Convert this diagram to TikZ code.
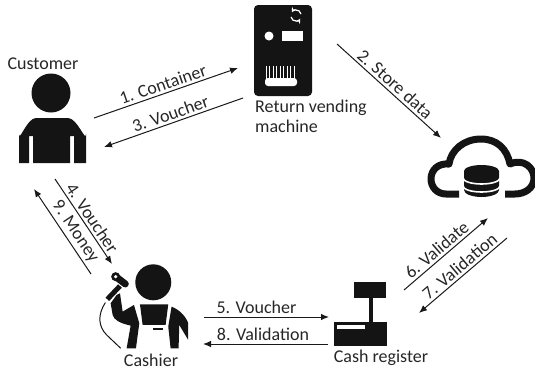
\documentclass[tikz,border=0pt]{standalone}
\usepackage{fontspec}
\setmainfont{Carlito}
\usetikzlibrary{arrows.meta}
\definecolor{iconblack}{HTML}{141414}
\tikzset{
 flow/.style={-{Latex[length=8pt,width=6.5pt]},line width=1pt,black!90},
 flowlabel/.style={sloped,above,inner sep=2.5pt,font=\fontsize{18}{18}\selectfont,text=black!85},
 caption/.style={font=\fontsize{18}{20}\selectfont,text=black!85,inner sep=0pt,align=left}
}
\begin{document}
\begin{tikzpicture}[x=1pt,y=-1pt,line cap=butt]
 \useasboundingbox (0,0) rectangle (535,370);

 % customer
 \node[caption] (customer) at (43,64) {Customer};
 \fill[iconblack] (51,93) circle (19.5);
 \fill[iconblack] (19,163) -- (19,134) to[out=-90,in=180] (36,118) -- (68,118)
  to[out=0,in=-90] (86,134) -- (86,163) -- (74,163) -- (74,136) -- (70,136) -- (70,163)
  -- (33,163) -- (33,136) -- (29,136) -- (29,163) -- cycle;

 % vending machine
 \fill[iconblack,rounded corners=4pt] (254,5) rectangle (312,96);
 \fill[white] (269,36) circle (4.5);
 \fill[white] (282,31) rectangle (303,41);
 \draw[white,line width=1.2pt,->,>=stealth] (291,17) arc (170:30:5);
 \draw[white,line width=1.2pt,->,>=stealth] (301,14) arc (-10:-150:5);
 \fill[white,rounded corners=3pt] (265,78) rectangle (297,86);
 \foreach \x in {266,269.5,...,297} {
  \draw[white,line width=0.9pt] (\x,66) -- (\x,82);
 }
 \node[caption,anchor=north west] (rvm) at (255,100) {Return vending\\machine};

 % cloud
 \draw[iconblack,line width=7pt,line join=round] (459,194) -- (446,194)
  .. controls (437,194) and (431,187) .. (431,179) .. controls (431,170) and (438,163) .. (449,164)
  .. controls (451,150) and (464,139) .. (481,139)
  .. controls (497,139) and (507,149) .. (510,164) .. controls (524,158) and (534,168) .. (534,178)
  .. controls (534,188) and (525,194) .. (515,194) -- (505,194);
 \fill[iconblack] (464,171) -- (464,190) arc (180:0:17.5 and 7) -- (499,171) arc (0:-180:17.5 and 6) -- cycle;
 \foreach \y in {178,186} {
  \draw[white,line width=1.6pt] (463,\y) arc (180:0:18.5 and 6);
 }

 % cash register
 \fill[iconblack] (354,282) rectangle (386,298);
 \fill[iconblack] (369,298) rectangle (373,323);
 \fill[iconblack] (334,322) rectangle (387,346);
 \fill[white] (337,325) rectangle (365,329);
 \node[caption] (register) at (381,358) {Cash register};

 % cashier
 \begin{scope}[shift={(100,260)},x=0.333pt,y=-0.333pt]
  \fill[iconblack] (160,67) circle (18pt);
  \fill[iconblack] (120,133) -- (205,133) -- (197,195) -- (128,195) -- cycle;
  \fill[iconblack] (60,100) -- (68,155) -- (102,135) -- (118,190) -- (108,265) -- (80,265)
   -- (92,197) .. controls (60,190) and (42,180) .. (38,165) -- (32,130) -- (50,105) -- cycle;
  \fill[iconblack] (215,140) .. controls (240,150) and (258,170) .. (265,190) -- (265,240)
   -- (238,195) -- (236,265) -- (212,265) -- (205,200) -- cycle;
  \fill[iconblack] (160,203) rectangle (190,209);
  \draw[iconblack,line width=5pt] (22,118) -- (60,78);
  \draw[iconblack,line width=7pt,line cap=round] (50,52) -- (76,72);
  \fill[iconblack] (47,50) circle (4.5pt);
  \fill[white] (47,50) circle (1.8pt);
  \draw[iconblack,line width=1pt] (16,128) .. controls (-8,165) and (-5,200) .. (20,225) -- (62,265);
 \end{scope}
 \node[caption] (cashier) at (151,360) {Cashier};

 % arrow ends
 \coordinate (a) at (94,118);  \coordinate (b) at (238,68);
 \coordinate (c) at (243,98);  \coordinate (d) at (104,147);
 \coordinate (e) at (337,44);  \coordinate (f) at (441,138);
 \coordinate (g) at (55,179);  \coordinate (h) at (112,264);
 \coordinate (i) at (91,274);  \coordinate (j) at (34,189);
 \coordinate (k) at (204,317); \coordinate (l) at (329,317);
 \coordinate (m) at (328,344); \coordinate (n) at (203,344);
 \coordinate (o) at (404,290); \coordinate (p) at (488,218);
 \coordinate (q) at (507,238); \coordinate (r) at (419,313);

 \draw[flow] (a) -- node[flowlabel] (l1) {1. Container} (b);
 \draw[flow] (c) -- node[flowlabel] (l3) {3. Voucher} (d);
 \draw[flow] (e) -- node[flowlabel] (l2) {2. Store data} (f);
 \draw[flow] (g) -- node[flowlabel,pos=.52] (l4) {4. Voucher} (h);
 \draw[flow] (i) -- node[flowlabel,pos=.43] (l9) {9. Money} (j);
 \draw[flow] (k) -- node[flowlabel,pos=.42] (l5) {5. Voucher} (l);
 \draw[flow] (m) -- node[flowlabel,pos=.52] (l8) {8. Validation} (n);
 \draw[flow] (o) -- node[flowlabel,pos=.46] (l6) {6. Validate} (p);
 \draw[flow] (q) -- node[flowlabel,pos=.47] (l7) {7. Validation} (r);
\end{tikzpicture}
\end{document}
